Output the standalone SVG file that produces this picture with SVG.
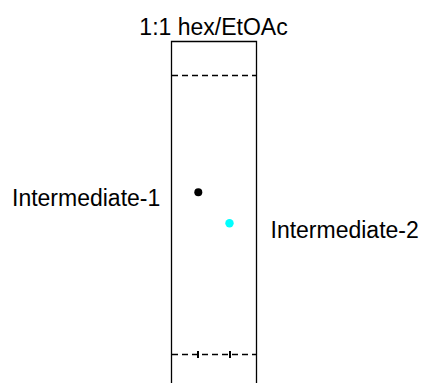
<svg xmlns="http://www.w3.org/2000/svg" width="422" height="383" viewBox="0 0 422 383">
<style>
.lbl{font-family:"Liberation Sans",Arial,sans-serif;font-size:23px;fill:#000}
.plate{fill:none;stroke:#000;stroke-width:1.3}
.dash{stroke:#000;stroke-width:1.3;stroke-dasharray:6,4;fill:none}
.tick{stroke:#000;stroke-width:2}
</style>
<rect width="422" height="383" fill="#fff"/>
<g id="plate">
<path class="plate" d="M171.5,383 V41.5 H256.5 V383"/>
</g>
<g id="connectors">
<line class="dash" x1="172" y1="75.5" x2="256" y2="75.5"/>
<line class="dash" x1="172" y1="354.5" x2="256" y2="354.5"/>
<line class="tick" x1="198" y1="351" x2="198" y2="358"/>
<line class="tick" x1="230" y1="351" x2="230" y2="358"/>
</g>
<g id="spot1"><circle cx="198.3" cy="192.3" r="4" fill="#000"/></g>
<g id="spot2"><circle cx="229.5" cy="223.3" r="4.2" fill="#00ffff"/></g>
<g id="title"><text class="lbl" x="213.5" y="35" text-anchor="middle">1:1 hex/EtOAc</text></g>
<g id="label1"><text class="lbl" x="12" y="205.5">Intermediate-1</text></g>
<g id="label2"><text class="lbl" x="270.5" y="237.5">Intermediate-2</text></g>
</svg>
